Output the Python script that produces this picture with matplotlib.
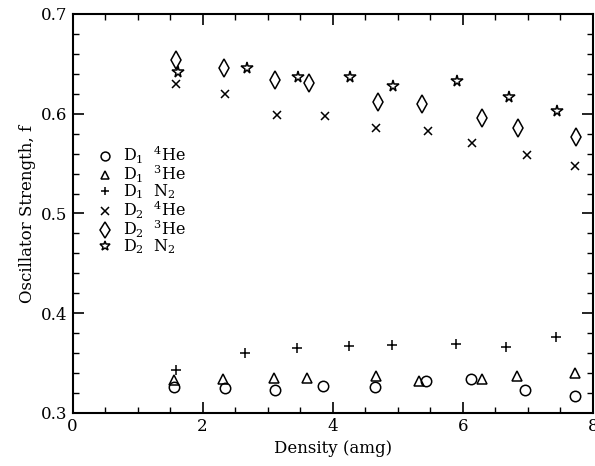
import matplotlib
matplotlib.use("Agg")
import matplotlib.pyplot as plt
from matplotlib.ticker import MultipleLocator

plt.rcParams['font.family'] = ['DejaVu Serif']
plt.rcParams['mathtext.fontset'] = 'dejavuserif'

# D1 line, 4He
d1_he4_x = [1.56, 2.34, 3.11, 3.85, 4.65, 5.44, 6.12, 6.96, 7.72]
d1_he4_y = [0.326, 0.325, 0.323, 0.327, 0.326, 0.332, 0.334, 0.323, 0.317]
# D1 line, 3He
d1_he3_x = [1.56, 2.31, 3.09, 3.61, 4.67, 5.33, 6.29, 6.83, 7.73]
d1_he3_y = [0.333, 0.334, 0.335, 0.335, 0.337, 0.332, 0.334, 0.337, 0.340]
# D1 line, N2
d1_n2_x = [1.59, 2.65, 3.45, 4.25, 4.91, 5.89, 6.67, 7.43]
d1_n2_y = [0.343, 0.3605, 0.365, 0.367, 0.368, 0.369, 0.3665, 0.376]
# D2 line, 4He
d2_he4_x = [1.59, 2.35, 3.14, 3.88, 4.67, 5.46, 6.14, 6.98, 7.73]
d2_he4_y = [0.6295, 0.620, 0.599, 0.598, 0.586, 0.583, 0.571, 0.559, 0.548]
# D2 line, 3He
d2_he3_x = [1.585, 2.33, 3.12, 3.63, 4.70, 5.37, 6.30, 6.85, 7.74]
d2_he3_y = [0.654, 0.646, 0.634, 0.6305, 0.6115, 0.6095, 0.596, 0.586, 0.577]
# D2 line, N2
d2_n2_x = [1.62, 2.68, 3.47, 4.27, 4.93, 5.91, 6.71, 7.44]
d2_n2_y = [0.642, 0.646, 0.637, 0.637, 0.628, 0.633, 0.617, 0.603]

labels = [r'D$_1$  $^4$He', r'D$_1$  $^3$He', r'D$_1$  N$_2$',
          r'D$_2$  $^4$He', r'D$_2$  $^3$He', r'D$_2$  N$_2$']

fig = plt.figure(figsize=(5.95, 4.66), dpi=100)
ax = fig.add_axes([72.5 / 595, 1 - 413 / 466, (593 - 72.5) / 595, (413 - 14) / 466])

kw = dict(linestyle='none', color='black', markerfacecolor='none', markeredgewidth=1.1)
ax.plot(d1_he4_x, d1_he4_y, marker='o', markersize=7.5, label=labels[0], **kw)
ax.plot(d1_he3_x, d1_he3_y, marker='^', markersize=7.5, label=labels[1], **kw)
ax.plot(d1_n2_x, d1_n2_y, marker='+', markersize=7.5, label=labels[2], **kw)
ax.plot(d2_he4_x, d2_he4_y, marker='x', markersize=6, label=labels[3], **kw)
ax.plot(d2_he3_x, d2_he3_y, marker='d', markersize=9, label=labels[4], **kw)
ax.plot(d2_n2_x, d2_n2_y, marker='*', markersize=8.5, label=labels[5], **kw)

ax.set_xlim(0, 8)
ax.set_ylim(0.3, 0.7)
ax.xaxis.set_major_locator(MultipleLocator(2))
ax.xaxis.set_minor_locator(MultipleLocator(0.5))
ax.yaxis.set_major_locator(MultipleLocator(0.1))
ax.yaxis.set_minor_locator(MultipleLocator(0.02))
ax.yaxis.set_major_formatter(plt.FuncFormatter(lambda v, p: f'{v:.1f}'))
ax.tick_params(which='both', direction='in', top=True, right=True, labelsize=12)
ax.tick_params(which='major', length=8, width=1.2)
ax.tick_params(which='minor', length=4, width=1.0)
for s in ax.spines.values():
    s.set_linewidth(1.5)

ax.set_xlabel('Density (amg)', fontsize=12)
ax.set_ylabel('Oscillator Strength, f', fontsize=12)

leg = ax.legend(loc='upper left', bbox_to_anchor=(0.035, 0.69), frameon=False,
                fontsize=11.5, handlelength=1.0, handletextpad=0.6,
                labelspacing=-0.15, borderaxespad=0, numpoints=1,
                markerscale=0.85)

fig.savefig('out.png', dpi=100)
